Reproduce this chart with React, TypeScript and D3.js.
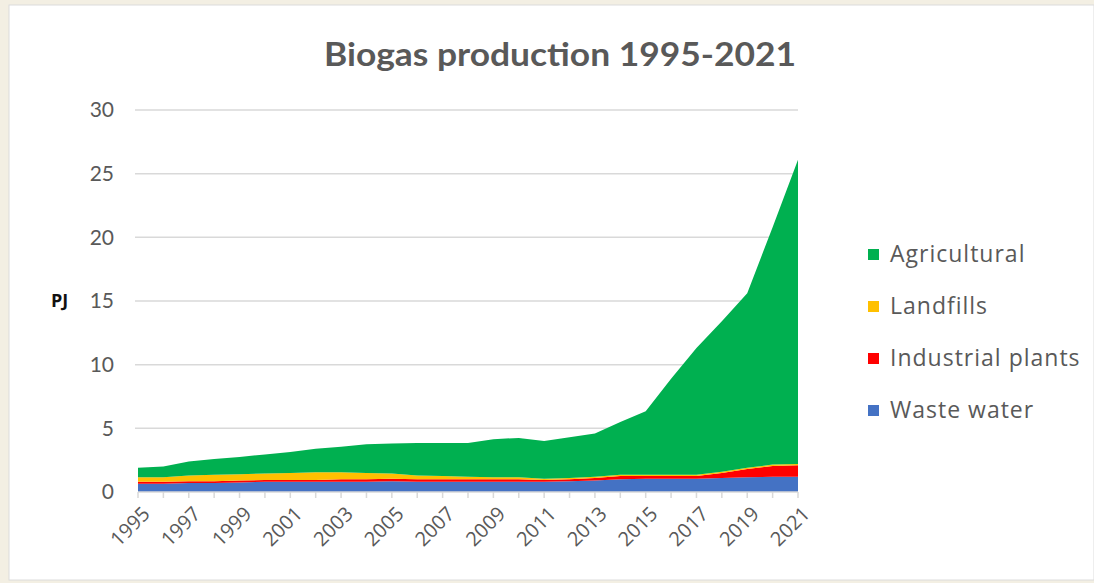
import React from "react";
import * as d3 from "d3";

const years: number[] = d3.range(1995, 2022);
const wasteWater = [0.65,0.65,0.7,0.7,0.75,0.8,0.8,0.8,0.8,0.8,0.85,0.8,0.8,0.8,0.8,0.8,0.8,0.85,0.9,1.0,1.05,1.05,1.05,1.1,1.15,1.2,1.2];
const industrialPlants = [0.15,0.15,0.15,0.15,0.15,0.15,0.15,0.15,0.2,0.2,0.2,0.2,0.2,0.2,0.2,0.2,0.15,0.15,0.2,0.25,0.2,0.2,0.2,0.4,0.65,0.85,0.9];
const landfills = [0.35,0.35,0.45,0.5,0.5,0.5,0.55,0.6,0.55,0.5,0.4,0.3,0.25,0.2,0.15,0.15,0.1,0.1,0.1,0.1,0.1,0.1,0.1,0.1,0.1,0.1,0.1];
const agricultural = [0.75,0.85,1.1,1.25,1.35,1.5,1.65,1.85,2.0,2.25,2.35,2.55,2.6,2.65,3.0,3.1,2.95,3.2,3.4,4.15,5.0,7.55,9.95,11.8,13.7,18.65,23.9];

const seriesKeys = ["Waste water", "Industrial plants", "Landfills", "Agricultural"];
const seriesColors = ["#4472c4", "#ff0000", "#ffc000", "#00b050"];
const yTicks = [0, 5, 10, 15, 20, 25, 30];
const xLabelYears = years.filter((y) => (y - 1995) % 2 === 0);
const title = "Biogas production 1995-2021";
const yAxisTitle = "PJ";

const W = 1094, H = 583;
const M = { left: 138, right: 798, top: 110, bottom: 492 };
const FONT = "Lato, 'Open Sans', sans-serif";
const FONT2 = "'Open Sans', Lato, sans-serif";

export default function App() {
  const rows = years.map((yr, i) => ({
    year: yr,
    "Waste water": wasteWater[i],
    "Industrial plants": industrialPlants[i],
    Landfills: landfills[i],
    Agricultural: agricultural[i],
  }));
  const x = d3.scaleLinear().domain([1995, 2021]).range([M.left, M.right]);
  const y = d3.scaleLinear().domain([0, 30]).range([M.bottom, M.top]);
  const stack = d3.stack<any>().keys(seriesKeys);
  const stacked = stack(rows);
  const area = d3
    .area<any>()
    .x((d) => x(d.data.year))
    .y0((d) => y(d[0]))
    .y1((d) => y(d[1]))
    .curve(d3.curveLinear);

  const legendOrder = [3, 2, 1, 0];
  return (
    <svg width={W} height={H} style={{ position: "absolute", left: 0, top: 0 }}>
      <rect x={0} y={0} width={W} height={H} fill="#f3efe3" />
      <rect x={9} y={5} width={W - 9} height={H - 8} fill="#ffffff" stroke="#dcdcdc" />
      <text x={560} y={66} textAnchor="middle" fontFamily={FONT} fontWeight={700} fontSize={33}
        textLength={472} lengthAdjust="spacingAndGlyphs" fill="#595959">
        {title}
      </text>
      {yTicks.map((t) => (
        <g key={t}>
          {t > 0 && (
            <line x1={M.left - 3} x2={M.right} y1={y(t)} y2={y(t)} stroke="#d9d9d9" strokeWidth={1.5} />
          )}
          <text x={114} y={y(t)} dy="0.35em" textAnchor="end" fontFamily={FONT} fontSize={21} fill="#595959">
            {t}
          </text>
        </g>
      ))}
      <text x={51} y={y(15)} dy="0.35em" fontFamily={FONT2} fontWeight={700} fontSize={18} fill="#111">
        {yAxisTitle}
      </text>
      {stacked.map((s, i) => (
        <path key={s.key} d={area(s as any) || ""} fill={seriesColors[i]} />
      ))}
      <line x1={M.left} x2={M.right} y1={M.bottom} y2={M.bottom} stroke="#d9d9d9" strokeWidth={1.5} />
      {years.map((yr) => (
        <line key={yr} x1={x(yr)} x2={x(yr)} y1={M.bottom} y2={M.bottom + 6} stroke="#d9d9d9" strokeWidth={1.5} />
      ))}
      {xLabelYears.map((yr) => (
        <text
          key={yr}
          transform={`translate(${x(yr) + 3},${M.bottom + 13}) rotate(-45)`}
          textAnchor="end"
          dy="0.72em"
          fontFamily={FONT2}
          fontSize={20}
          fill="#595959"
        >
          {yr}
        </text>
      ))}
      {legendOrder.map((si, k) => (
        <g key={si} transform={`translate(868,${254 + k * 52})`}>
          <rect x={0} y={-5} width={11} height={11} fill={seriesColors[si]} />
          <text x={22} y={0} dy="0.36em" fontFamily={FONT2} fontSize={23} letterSpacing={1} fill="#595959">
            {seriesKeys[si]}
          </text>
        </g>
      ))}
    </svg>
  );
}
